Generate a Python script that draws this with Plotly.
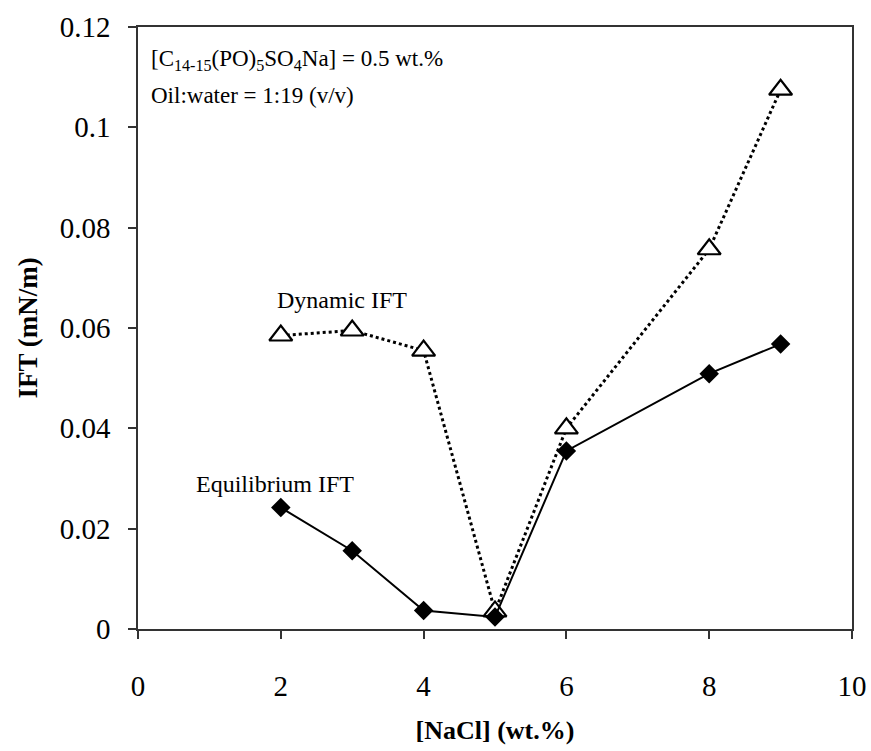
import plotly.graph_objects as go

nacl = [2, 3, 4, 5, 6, 8, 9]
equilibrium_ift = [0.0242, 0.0156, 0.0037, 0.0024, 0.0355, 0.0509, 0.0568]
dynamic_ift = [0.0585, 0.0595, 0.0555, 0.0035, 0.0400, 0.0757, 0.1075]

x_ticks = [0, 2, 4, 6, 8, 10]
y_ticks = [0, 0.02, 0.04, 0.06, 0.08, 0.1, 0.12]
y_ticklabels = ["0", "0.02", "0.04", "0.06", "0.08", "0.1", "0.12"]

FONT = "Liberation Serif, Times New Roman, serif"

fig = go.Figure()
fig.add_trace(go.Scatter(
    x=nacl, y=dynamic_ift, mode="lines+markers", name="Dynamic IFT",
    line=dict(color="black", width=3, dash="dot"),
    marker=dict(symbol="triangle-up", size=20, color="white",
                line=dict(width=2.2, color="black")),
))
fig.add_trace(go.Scatter(
    x=nacl, y=equilibrium_ift, mode="lines+markers", name="Equilibrium IFT",
    line=dict(color="black", width=2),
    marker=dict(symbol="diamond", size=15, color="black"),
))

fig.update_layout(
    width=871, height=751,
    margin=dict(l=138, r=19, t=27, b=122),
    paper_bgcolor="white", plot_bgcolor="white",
    showlegend=False,
    font=dict(family=FONT, color="black"),
    xaxis=dict(
        range=[0, 10], tickvals=x_ticks, ticktext=[str(v) for v in x_ticks],
        showgrid=False, zeroline=False, automargin=False,
        showline=True, linecolor="#333", linewidth=1.5, mirror=True,
        ticks="outside", ticklen=8, tickcolor="#333", tickwidth=1.5,
        ticklabelstandoff=22,
        tickfont=dict(size=29, family=FONT),
        title=dict(text="<b>[NaCl] (wt.%)</b>", font=dict(size=26, family=FONT), standoff=20),
    ),
    yaxis=dict(
        range=[0, 0.12], tickvals=y_ticks, ticktext=y_ticklabels,
        showgrid=False, zeroline=False, automargin=False,
        showline=True, linecolor="#333", linewidth=1.5, mirror=True,
        ticks="outside", ticklen=8, tickcolor="#333", tickwidth=1.5,
        ticklabelstandoff=12,
        tickfont=dict(size=29, family=FONT),
        title=dict(text="<b>IFT (mN/m)</b>", font=dict(size=27, family=FONT), standoff=14),
    ),
)

fig.add_annotation(
    x=0.15, y=0.1134, xref="x", yref="y", xanchor="left", yanchor="middle",
    text="[C<sub>14-15</sub>(PO)<sub>5</sub>SO<sub>4</sub>Na] = 0.5 wt.%",
    showarrow=False, font=dict(size=23, family=FONT),
)
fig.add_annotation(
    x=0.15, y=0.1064, xref="x", yref="y", xanchor="left", yanchor="middle",
    text="Oil:water = 1:19 (v/v)",
    showarrow=False, font=dict(size=23, family=FONT),
)
fig.add_annotation(
    x=1.92, y=0.0655, xref="x", yref="y", xanchor="left", yanchor="middle",
    text="Dynamic IFT", showarrow=False, font=dict(size=24, family=FONT),
)
fig.add_annotation(
    x=0.78, y=0.0290, xref="x", yref="y", xanchor="left", yanchor="middle",
    text="Equilibrium IFT", showarrow=False, font=dict(size=24, family=FONT),
)

fig.write_html("out.html")
